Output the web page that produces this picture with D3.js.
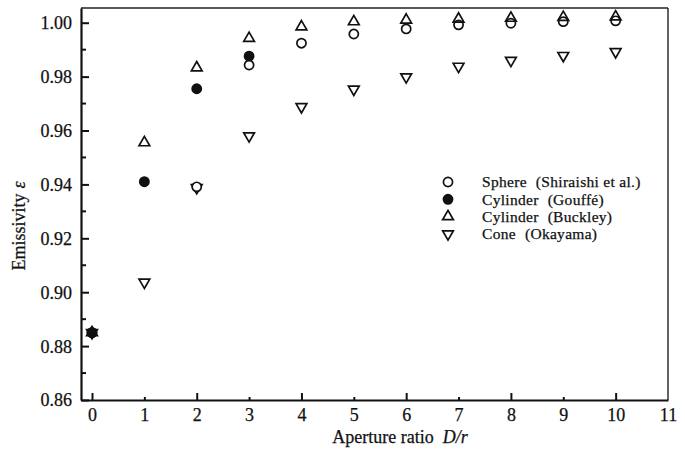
<!DOCTYPE html>
<html>
<head>
<meta charset="utf-8">
<script src="https://cdn.jsdelivr.net/npm/d3@7/dist/d3.min.js"></script>
<style>
  html, body { margin: 0; padding: 0; background: #fff; }
  svg { display: block; }
  text { font-family: "Liberation Serif", "Times New Roman", serif; fill: #111; stroke: #111; stroke-width: 0.25px; }
</style>
</head>
<body>
<svg id="chart" width="685" height="455"></svg>
<script>
// Aperture ratio D/r for each series
const sphereX   = [0, 2, 3, 4, 5, 6, 7, 8, 9, 10];
const sphereY   = [0.885, 0.9391, 0.9843, 0.9924, 0.9958, 0.9977, 0.9992, 0.9998, 1.0004, 1.0007];
const gouffeX   = [0, 1, 2, 3];
const gouffeY   = [0.885, 0.9410, 0.9755, 0.9876];
const buckleyX  = [0, 1, 2, 3, 4, 5, 6, 7, 8, 9, 10];
const buckleyY  = [0.885, 0.9555, 0.9833, 0.9942, 0.9985, 1.0004, 1.0010, 1.0014, 1.0017, 1.0020, 1.0022];
const okayamaX  = [0, 1, 2, 3, 4, 5, 6, 7, 8, 9, 10];
const okayamaY  = [0.885, 0.9037, 0.9388, 0.9580, 0.9688, 0.9753, 0.9799, 0.9838, 0.9860, 0.9878, 0.9892];

const seriesShapes = ["Sphere", "Cylinder", "Cylinder", "Cone"];
const seriesSources = ["(Shiraishi et al.)", "(Gouffé)", "(Buckley)", "(Okayama)"];

const xTickValues = [0, 1, 2, 3, 4, 5, 6, 7, 8, 9, 10, 11];
const yTickValues = [0.86, 0.88, 0.90, 0.92, 0.94, 0.96, 0.98, 1.00];
const yMinorValues = [0.87, 0.89, 0.91, 0.93, 0.95, 0.97, 0.99];

const svg = d3.select("#chart");
const plotLeft = 81, plotRight = 668, plotTop = 8, plotBottom = 400;
const fontSize = 18;

const x = d3.scaleLinear().domain([-0.21, 11]).range([plotLeft, plotRight]);
const y = d3.scaleLinear().domain([0.86, 1.00546]).range([plotBottom, plotTop]);

// frame (top and right)
svg.append("line").attr("x1", plotLeft).attr("x2", plotRight).attr("y1", plotTop).attr("y2", plotTop)
  .attr("stroke", "#222").attr("stroke-width", 1.4);
svg.append("line").attr("x1", plotRight).attr("x2", plotRight).attr("y1", plotTop).attr("y2", plotBottom)
  .attr("stroke", "#222").attr("stroke-width", 1.4);

// y axis with inward ticks
const yAxis = d3.axisLeft(y).tickValues(yTickValues).tickFormat(d3.format(".2f"))
  .tickSizeInner(-8).tickSizeOuter(0).tickPadding(9);
const gy = svg.append("g").attr("transform", `translate(${plotLeft},0)`).call(yAxis);
gy.select(".domain").attr("stroke", "#111").attr("stroke-width", 2.2);
gy.selectAll(".tick line").attr("stroke", "#111").attr("stroke-width", 2);
gy.selectAll(".tick text").attr("font-size", fontSize).attr("dy", "0.33em")
  .attr("x", -9);
gy.selectAll(".minor").data(yMinorValues).enter().append("line")
  .attr("x1", 0).attr("x2", 5).attr("y1", d => y(d)).attr("y2", d => y(d))
  .attr("stroke", "#111").attr("stroke-width", 2);

// x axis with inward ticks, longer at even values
const xAxis = d3.axisBottom(x).tickValues(xTickValues).tickFormat(d3.format("d"))
  .tickSizeInner(0).tickSizeOuter(0).tickPadding(8);
const gx = svg.append("g").attr("transform", `translate(0,${plotBottom})`).call(xAxis);
gx.select(".domain").attr("stroke", "#111").attr("stroke-width", 2.2);
gx.selectAll(".tick text").attr("font-size", fontSize).attr("dy", "0.71em");
gx.selectAll(".tick").append("line")
  .attr("y1", 0).attr("y2", d => d === 11 ? 0 : (d % 2 === 0 ? -7 : -3))
  .attr("stroke", "#111").attr("stroke-width", 2);

// axis titles
const xt = svg.append("text").attr("x", 400).attr("y", 443).attr("text-anchor", "middle").attr("font-size", fontSize);
xt.append("tspan").text("Aperture ratio");
xt.append("tspan").attr("dx", 9).attr("font-style", "italic").text("D/r");

const yt = svg.append("text").attr("transform", "translate(25,226) rotate(-90)")
  .attr("text-anchor", "middle").attr("font-size", fontSize);
yt.append("tspan").text("Emissivity");
yt.append("tspan").attr("dx", 5).attr("font-style", "italic").text("ε");

// marker styles
const circleSym = d3.symbol().type(d3.symbolCircle).size(66)();
const triSym = d3.symbol().type(d3.symbolTriangle).size(50)();
const styles = [
  { path: circleSym, fill: "#fff", rot: 0 },
  { path: circleSym, fill: "#111", rot: 0 },
  { path: triSym, fill: "none", rot: 0 },
  { path: triSym, fill: "none", rot: 180 }
];

const series = [
  { xs: sphereX, ys: sphereY },
  { xs: gouffeX, ys: gouffeY },
  { xs: buckleyX, ys: buckleyY },
  { xs: okayamaX, ys: okayamaY }
];

// draw order: cone, sphere, gouffe, buckley
[3, 0, 1, 2].forEach(i => {
  const s = series[i], st = styles[i];
  const pts = s.xs.map((xv, k) => [xv, s.ys[k]]);
  svg.append("g").selectAll("path").data(pts).enter().append("path")
    .attr("d", st.path)
    .attr("transform", d => `translate(${x(d[0])},${y(d[1])}) rotate(${st.rot})`)
    .attr("fill", st.fill).attr("stroke", "#111").attr("stroke-width", 1.7);
});

// legend
const lg = svg.append("g").attr("transform", "translate(448,182)");
seriesShapes.forEach((shape, i) => {
  const row = lg.append("g").attr("transform", `translate(0,${i * 17.3})`);
  row.append("path").attr("d", styles[i].path)
    .attr("transform", `rotate(${styles[i].rot})`)
    .attr("fill", styles[i].fill).attr("stroke", "#111").attr("stroke-width", 1.7);
  const t = row.append("text").attr("x", 34).attr("y", 0).attr("dy", "0.35em")
    .attr("font-size", 15.5).attr("letter-spacing", 0.3);
  t.append("tspan").text(shape);
  t.append("tspan").attr("dx", 9).text(seriesSources[i]);
});
</script>
</body>
</html>
